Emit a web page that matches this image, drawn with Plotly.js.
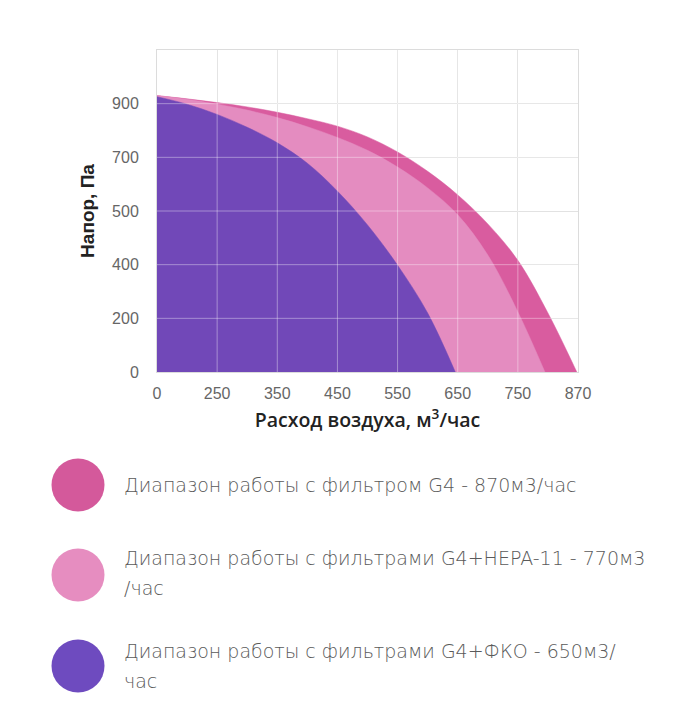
<!DOCTYPE html>
<html>
<head>
<meta charset="utf-8">
<script src="https://cdn.plot.ly/plotly-3.0.1.min.js"></script>
<style>
html,body{margin:0;padding:0;background:#fff;}
#chart{width:697px;height:728px;}
</style>
</head>
<body>
<div id="chart"></div>
<script>
// Tick labels (axis categories placed at equal grid steps)
const xTickLabels = ['0','250','350','450','550','650','750','870'];
const yTickLabels = ['0','200','400','500','700','900'];

// Curves, read in grid-step units of the axes above
const g4X  = [0, 0.5, 1, 1.5, 2, 2.5, 3, 3.5, 4, 4.5, 5, 5.5, 6, 6.5, 6.98];
const g4Y  = [5.15, 5.09, 5.02, 4.94, 4.84, 4.72, 4.58, 4.38, 4.10, 3.74, 3.30, 2.76, 2.08, 1.10, 0];

const hepaX = [0, 0.5, 1, 1.5, 2, 2.5, 3, 3.5, 4, 4.5, 5, 5.5, 6, 6.45];
const hepaY = [5.15, 5.08, 4.99, 4.88, 4.74, 4.57, 4.37, 4.13, 3.82, 3.43, 2.93, 2.18, 1.12, 0];

const fkoX = [0, 0.5, 1, 1.5, 2, 2.5, 3, 3.5, 4, 4.5, 4.96];
const fkoY = [5.13, 4.99, 4.80, 4.56, 4.27, 3.89, 3.37, 2.74, 1.99, 1.10, 0];

const seriesNames = [
  'Диапазон работы с фильтром G4 - 870м3/час',
  'Диапазон работы с фильтрами G4+HEPA-11 - 770м3<br>/час',
  'Диапазон работы с фильтрами G4+ФКО - 650м3/<br>час'
];
const fillColors = ['#d95c9f', '#e48cc0', '#7148b8'];
const legendColors = ['#d4599b', '#e68dc0', '#6e4bbf'];

const W = 697, H = 728;
const M = {l:157, r:119, t:50, b:356};
const pw = W - M.l - M.r, ph = H - M.t - M.b;
const px2x = p => (p - M.l) / pw;
const py2y = p => (H - M.b - p) / ph;

const traces = [[g4X,g4Y],[hepaX,hepaY],[fkoX,fkoY]].map((d,i)=>({
  type:'scatter', mode:'lines', x:d[0], y:d[1],
  fill:'tozeroy', fillcolor:fillColors[i],
  line:{width:0.5, color:fillColors[i], shape:'spline', smoothing:1, simplify:false},
  hoverinfo:'skip', showlegend:false
}));

const shapes = [];
// gridlines repeated faintly above the fills
xTickLabels.forEach((t,i)=>{ if(i>0 && i<xTickLabels.length-1) shapes.push({type:'line', xref:'x', yref:'paper', x0:i, x1:i, y0:0, y1:1, layer:'above', line:{color:'rgba(255,255,255,0.38)', width:1}}); });
yTickLabels.forEach((t,i)=>{ if(i>0) shapes.push({type:'line', xref:'paper', yref:'y', x0:0, x1:1, y0:i, y1:i, layer:'above', line:{color:'rgba(255,255,255,0.38)', width:1}}); });

// legend markers and texts
const legendCY = [485, 575, 666];
const legendTY = [485, 573, 666];
const LINE_GAP = 30;
const R = 26.5, CX = 78;
const annotations = [];
seriesNames.forEach((n,i)=>{
  shapes.push({type:'circle', xref:'paper', yref:'paper',
    x0:px2x(CX-R), x1:px2x(CX+R), y0:py2y(legendCY[i]+R), y1:py2y(legendCY[i]-R),
    fillcolor:legendColors[i], line:{width:0}});
  const lines = n.split('<br>');
  lines.forEach((ln,k)=>{
    const cy = legendTY[i] + (k - (lines.length-1)/2) * LINE_GAP;
    annotations.push({xref:'paper', yref:'paper', x:px2x(122), y:py2y(cy),
      xanchor:'left', yanchor:'middle', align:'left', showarrow:false, text:ln,
      font:{family:'DejaVu Sans', size:19, color:'#5a5a5a', weight:200}});
  });
});

const layout = {
  width:W, height:H,
  margin:M,
  paper_bgcolor:'#fff', plot_bgcolor:'#fff',
  showlegend:false,
  xaxis:{
    range:[0,7], tickvals:xTickLabels.map((t,i)=>i), ticktext:xTickLabels,
    showgrid:true, gridcolor:'#dcdcdc', gridwidth:1,
    showline:true, linecolor:'#dcdcdc', linewidth:1, mirror:true,
    zeroline:false, ticks:'outside', ticklen:7, tickcolor:'rgba(0,0,0,0)',
    tickfont:{family:'Liberation Sans, Arial', size:16, color:'#666'},
    automargin:false, fixedrange:true,
    title:{text:'Расход воздуха, м<sup>3</sup>/час', standoff:12,
      font:{family:'Open Sans', size:19.5, color:'#222', weight:600}}
  },
  yaxis:{
    range:[0,6], tickvals:yTickLabels.map((t,i)=>i), ticktext:yTickLabels,
    showgrid:true, gridcolor:'#dcdcdc', gridwidth:1,
    showline:true, linecolor:'#dcdcdc', linewidth:1, mirror:true,
    zeroline:false, ticks:'outside', ticklen:14, tickcolor:'rgba(0,0,0,0)',
    tickfont:{family:'Liberation Sans, Arial', size:16, color:'#666'},
    automargin:false, fixedrange:true,
    title:{text:'<b>Напор, Па</b>', standoff:12,
      font:{family:'Liberation Sans, Arial', size:19, color:'#222'}}
  },
  shapes:shapes,
  annotations:annotations
};

Plotly.newPlot('chart', traces, layout, {displayModeBar:false, staticPlot:true});
</script>
</body>
</html>
